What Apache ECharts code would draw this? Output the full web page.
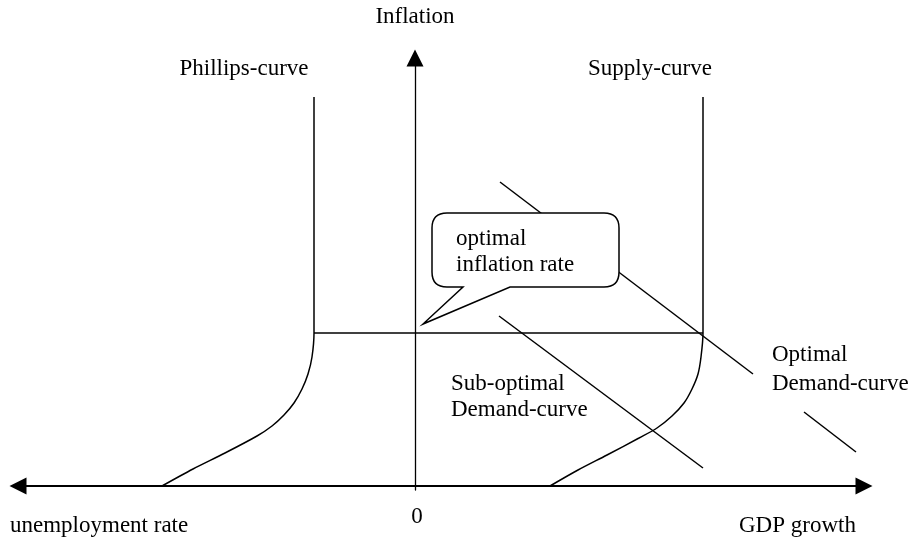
<!DOCTYPE html>
<html>
<head>
<meta charset="utf-8">
<script src="https://cdn.jsdelivr.net/npm/echarts@6/dist/echarts.min.js"></script>
<style>
  html, body { margin: 0; padding: 0; background: #fff; }
  #chart { width: 912px; height: 541px; }
</style>
</head>
<body>
<div id="chart"></div>
<script>
// diagram units, origin where the two axes cross (x: GDP growth, y: inflation)
const phillipsCurve = [
  [-101, 389], [-101, 153], [-103, 129], [-107, 112], [-113, 97], [-121, 83],
  [-131, 71], [-143, 60], [-158, 50], [-190, 33], [-222, 17], [-253, 0]
]
const supplyCurve = [
  [288, 389], [288, 153], [286, 129], [283, 112], [277, 97], [269, 83],
  [257, 70], [242, 58], [224, 48], [192, 31], [163, 16], [135, 0]
]
const optimalInflation = [[-101, 153], [288, 153]]
const optimalDemandUpper = [[85, 304], [338, 112]]
const optimalDemandLower = [[389, 74], [441, 34]]
const subOptimalDemand = [[84, 170], [288, 18]]

// speech bubble: box corners and the tail (base left, tip, base right)
const calloutBox = [[17, 273], [204, 199]]
const calloutTail = [[48, 199], [8, 162], [95, 199]]

// text, anchor x, anchor y, align
const labels = [
  ['Inflation', 0, 469, 'center'],
  ['Phillips-curve', -171, 417, 'center'],
  ['Supply-curve', 235, 417, 'center'],
  ['optimal', 41, 247, 'left'],
  ['inflation rate', 41, 221, 'left'],
  ['Optimal', 357, 131, 'left'],
  ['Demand-curve', 357, 102, 'left'],
  ['Sub-optimal', 36, 102, 'left'],
  ['Demand-curve', 36, 76, 'left'],
  ['0', 2, -31, 'center'],
  ['unemployment rate', -405, -40, 'left'],
  ['GDP growth', 324, -40, 'left']
]

const FONT = '"Liberation Serif", "Times New Roman", serif'

let myChart = echarts.init(document.getElementById('chart'))

function lineSeries (name, data, smooth) {
  return {
    name: name,
    type: 'line',
    data: data,
    showSymbol: false,
    smooth: smooth || false,
    lineStyle: { color: '#000', width: 1.5 },
    silent: true,
    z: 2
  }
}

let option = {
  animation: false,
  backgroundColor: '#fff',
  grid: { left: 18, right: 48, top: 58, bottom: 51, outerBoundsMode: 'none' },
  xAxis: {
    type: 'value',
    min: -397,
    max: 449,
    axisLine: {
      show: true,
      onZero: true,
      symbol: ['triangle', 'triangle'],
      symbolSize: [17, 17],
      lineStyle: { color: '#000', width: 2 }
    },
    axisTick: { show: false },
    axisLabel: { show: false },
    splitLine: { show: false }
  },
  yAxis: {
    type: 'value',
    min: -4,
    max: 428,
    axisLine: {
      show: true,
      onZero: true,
      symbol: ['none', 'triangle'],
      symbolSize: [17, 17],
      lineStyle: { color: '#000', width: 1.3 }
    },
    axisTick: { show: false },
    axisLabel: { show: false },
    splitLine: { show: false }
  },
  series: [
    lineSeries('phillips', phillipsCurve, 0.3),
    lineSeries('supply', supplyCurve, 0.3),
    lineSeries('optimalInflation', optimalInflation),
    lineSeries('optimalDemandUpper', optimalDemandUpper),
    lineSeries('optimalDemandLower', optimalDemandLower),
    lineSeries('subOptimalDemand', subOptimalDemand),
    {
      // 气泡框
      type: 'custom',
      data: [calloutBox[0]],
      silent: true,
      z: 5,
      renderItem: function (params, api) {
        let a = api.coord(calloutBox[0])
        let b = api.coord(calloutBox[1])
        let t = calloutTail.map(p => api.coord(p))
        let x0 = a[0], yt = a[1], x1 = b[0], yb = b[1]
        let r = 15
        let d = 'M' + t[2][0] + ' ' + yb +
          ' L' + (x1 - r) + ' ' + yb +
          ' Q' + x1 + ' ' + yb + ' ' + x1 + ' ' + (yb - r) +
          ' L' + x1 + ' ' + (yt + r) +
          ' Q' + x1 + ' ' + yt + ' ' + (x1 - r) + ' ' + yt +
          ' L' + (x0 + r) + ' ' + yt +
          ' Q' + x0 + ' ' + yt + ' ' + x0 + ' ' + (yt + r) +
          ' L' + x0 + ' ' + (yb - r) +
          ' Q' + x0 + ' ' + yb + ' ' + (x0 + r) + ' ' + yb +
          ' L' + t[0][0] + ' ' + yb +
          ' L' + t[1][0] + ' ' + t[1][1] + ' Z'
        return {
          type: 'path',
          shape: { pathData: d },
          style: { fill: '#fff', stroke: '#000', lineWidth: 1.5 }
        }
      }
    },
    {
      type: 'custom',
      data: labels.map(l => [l[1], l[2]]),
      silent: true,
      z: 10,
      renderItem: function (params, api) {
        let l = labels[params.dataIndex]
        let p = api.coord([api.value(0), api.value(1)])
        return {
          type: 'text',
          x: p[0],
          y: p[1],
          style: {
            text: l[0],
            fill: '#000',
            fontSize: 23,
            fontFamily: FONT,
            align: l[3],
            verticalAlign: 'middle'
          }
        }
      }
    }
  ]
}
myChart.setOption(option, true)
</script>
</body>
</html>
